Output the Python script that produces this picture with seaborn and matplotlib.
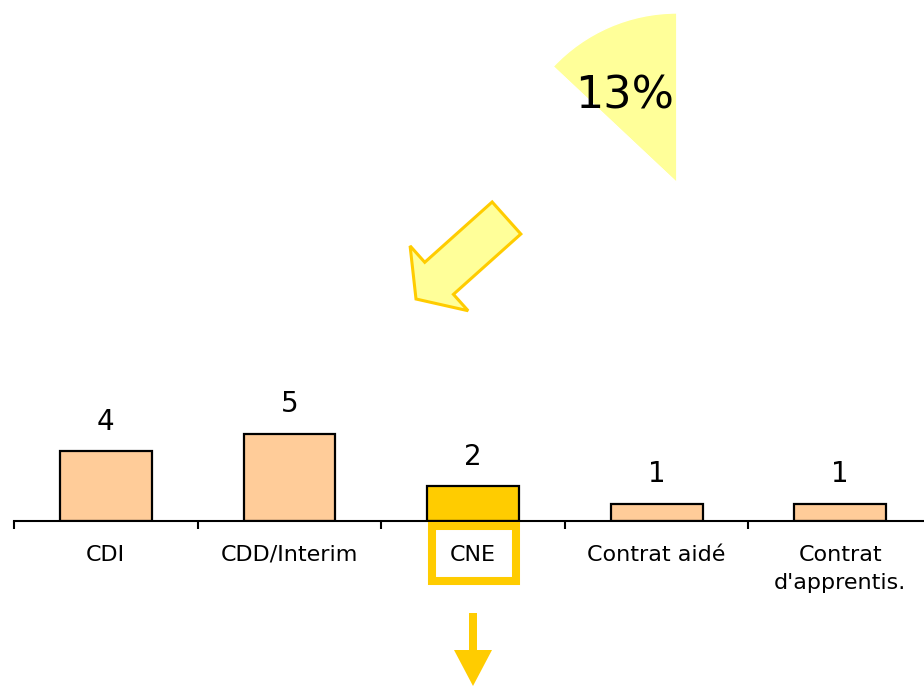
import matplotlib.pyplot as plt
import numpy as np
import pandas as pd
import seaborn as sns

from matplotlib.patches import FancyArrow, Rectangle


contracts = ['CDI', 'CDD/Interim', 'CNE', 'Contrat aidé', "Contrat\nd'apprentis."]
counts = [4, 5, 2, 1, 1]
highlight = 'CNE'

# share shown in the wedge at the top (percent)
share = [13, 87]

BAR = '#FFCC99'
GOLD = '#FFCC00'
PALE = '#FFFF99'

W, H = 924, 686


def plot_contracts(fig):
    # the axis line runs past the right edge like on the original slide
    ax = fig.add_axes([14 / W, 165 / H, 918 / W, 521 / H])
    df = pd.DataFrame({'contract': contracts, 'count': counts})
    palette = {c: (GOLD if c == highlight else BAR) for c in contracts}
    sns.barplot(data=df, x='contract', y='count', hue='contract', palette=palette,
                legend=False, width=0.5, saturation=1, edgecolor='black',
                linewidth=1.6, ax=ax)

    for container in ax.containers:
        ax.bar_label(container, fontsize=20, padding=11, color='black')

    ax.set_xlim(-0.5, len(contracts) - 0.5)
    ax.set_ylim(0, 521 / 17.5)
    ax.set_xlabel('')
    ax.set_ylabel('')
    ax.set_yticks([])
    ax.set_xticks(np.arange(-0.5, len(contracts), 1), minor=True)
    ax.tick_params(axis='x', which='major', length=0, pad=17, labelsize=16,
                   labelcolor='black')
    ax.tick_params(axis='x', which='minor', bottom=True, length=6, width=1.5,
                   color='black', direction='out')
    for label in ax.get_xticklabels():
        label.set_linespacing(1.55)
    sns.despine(ax=ax, left=True)
    ax.spines['bottom'].set_linewidth(1.5)
    ax.spines['bottom'].set_color('black')
    ax.set_facecolor('none')
    return ax


def plot_share(fig):
    pax = fig.add_axes([507 / W, 333 / H, 340 / W, 340 / H])
    wedges, texts, autotexts = pax.pie(share, colors=[PALE, 'none'], startangle=90,
                                       counterclock=True, autopct='%d%%',
                                       pctdistance=0.6,
                                       textprops={'fontsize': 32, 'color': 'black'})
    autotexts[1].set_visible(False)
    autotexts[0].set_position((-0.31, 0.51))
    pax.set_xlim(-1, 1)
    pax.set_ylim(-1, 1)
    pax.set_facecolor('none')
    return pax


def draw_callouts(fig):
    ov = fig.add_axes([0, 0, 1, 1])
    ov.set_xlim(0, W)
    ov.set_ylim(H, 0)
    ov.axis('off')
    ov.set_facecolor('none')

    ov.add_patch(FancyArrow(506.5, 218, -90.5, 81, width=43, head_width=87,
                            head_length=31, length_includes_head=True,
                            facecolor=PALE, edgecolor=GOLD, linewidth=2.2))
    ov.add_patch(Rectangle((432, 526), 84, 55, fill=False, edgecolor=GOLD,
                           linewidth=5.8))
    ov.add_patch(FancyArrow(473, 613, 0, 73, width=8, head_width=38,
                            head_length=36, length_includes_head=True,
                            color=GOLD, linewidth=0))


sns.set_style('white')
plt.rcParams['font.family'] = ['DejaVu Sans']
plt.rcParams['text.color'] = 'black'

fig = plt.figure(figsize=(W / 100, H / 100), dpi=100)
plot_contracts(fig)
plot_share(fig)
draw_callouts(fig)
fig.savefig('out.png', dpi=100)
